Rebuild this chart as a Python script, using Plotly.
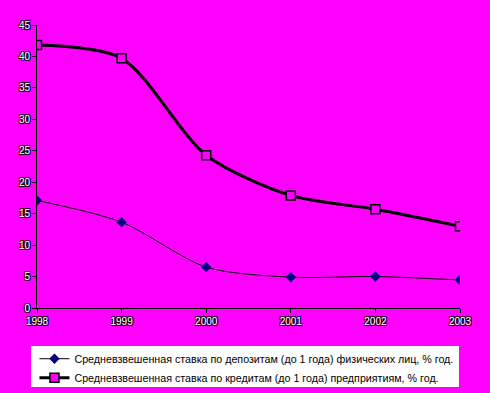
import plotly.graph_objects as go

years = [1998, 1999, 2000, 2001, 2002, 2003]
deposits = [17.1, 13.65, 6.5, 4.9, 5.0, 4.45]
loans = [41.8, 39.7, 24.3, 17.9, 15.7, 13.0]
name_dep = "Средневзвешенная ставка по депозитам (до 1 года) физических лиц, % год."
name_loan = "Средневзвешенная ставка по кредитам (до 1 года) предприятиям, % год."

MAG = "#FF00FF"
fig = go.Figure()
fig.add_trace(go.Scatter(
    x=years, y=deposits, name=name_dep, mode="lines+markers",
    line=dict(color="black", width=1, shape="spline", smoothing=0.8),
    marker=dict(symbol="diamond", size=8, color="#000080", line=dict(width=0)),
))
fig.add_trace(go.Scatter(
    x=years, y=loans, name=name_loan, mode="lines+markers",
    line=dict(color="black", width=3, shape="spline", smoothing=0.8),
    marker=dict(symbol="square", size=9, color=MAG, line=dict(color="black", width=1.5)),
))

tickfont = dict(family="Arial, Liberation Sans", size=10, color="white",
                shadow="1px 1px 0px black, -1px -1px 0px black, 1px -1px 0px black, -1px 1px 0px black")

fig.update_layout(
    width=490, height=393,
    paper_bgcolor=MAG, plot_bgcolor=MAG,
    margin=dict(l=37, r=30, t=25, b=85, autoexpand=False),
    showlegend=True,
    legend=dict(
        x=-0.006, y=-0.128, xanchor="left", yanchor="top",
        bgcolor="rgba(0,0,0,0)", borderwidth=0,
        font=dict(family="Arial, Liberation Sans", size=10.7, color="black"),
        tracegroupgap=0, itemwidth=30,
    ),
    shapes=[dict(type="rect", xref="paper", yref="paper",
                 x0=-0.0142, x1=0.9976, y0=-0.279, y1=-0.134,
                 fillcolor="white", line=dict(width=0), layer="below")],
    xaxis=dict(
        range=[1998, 2003], tickmode="array", tickvals=years,
        ticktext=[str(y) for y in years], automargin=False,
        showgrid=False, zeroline=False, showline=True, linecolor="black", linewidth=1,
        ticks="outside", ticklen=4, tickcolor="black", tickfont=tickfont,
    ),
    yaxis=dict(
        range=[0, 45], dtick=5, tick0=0, automargin=False,
        showgrid=False, zeroline=False, showline=True, linecolor="black", linewidth=1,
        ticks="outside", ticklen=4, tickcolor="black", tickfont=tickfont,
    ),
)
fig.write_html("out.html", config={"displayModeBar": False},
               post_script="document.body.style.margin='0';document.body.style.background='#FF00FF';")
